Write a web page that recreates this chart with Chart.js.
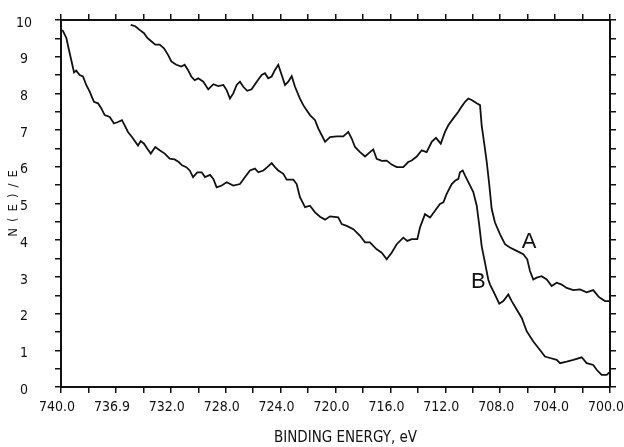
<!DOCTYPE html>
<html>
<head>
<meta charset="utf-8">
<script src="https://cdn.jsdelivr.net/npm/chart.js@4"></script>
<style>
  html, body { margin: 0; padding: 0; background: #fff; }
</style>
</head>
<body>
<canvas id="spectrum" width="624" height="447"></canvas>
<script>
// [binding energy (eV), N(E)/E]
const curveA = [
  [734.92, 9.87], [734.59, 9.83], [734.27, 9.73], [733.95, 9.64], [733.71, 9.51], [733.42, 9.42],
  [733.13, 9.33], [732.81, 9.33], [732.50, 9.23], [732.20, 9.05], [731.96, 8.87], [731.60, 8.78],
  [731.23, 8.73], [730.99, 8.78], [730.75, 8.64], [730.51, 8.46], [730.26, 8.36], [730.00, 8.41],
  [729.63, 8.32], [729.27, 8.11], [728.90, 8.25], [728.54, 8.20], [728.17, 8.23], [727.93, 8.09],
  [727.69, 7.86], [727.45, 8.00], [727.20, 8.23], [726.96, 8.32], [726.72, 8.18], [726.43, 8.07],
  [726.11, 8.11], [725.74, 8.32], [725.38, 8.50], [725.14, 8.55], [724.90, 8.41], [724.65, 8.46],
  [724.41, 8.64], [724.17, 8.78], [723.92, 8.50], [723.68, 8.23], [723.44, 8.32], [723.19, 8.47],
  [722.95, 8.18], [722.59, 7.86], [722.35, 7.68], [722.10, 7.54], [721.86, 7.41], [721.49, 7.27],
  [721.25, 7.04], [721.00, 6.86], [720.76, 6.68], [720.40, 6.81], [719.91, 6.83], [719.43, 6.83],
  [719.07, 6.95], [718.82, 6.77], [718.58, 6.54], [718.21, 6.40], [717.85, 6.28], [717.49, 6.40],
  [717.25, 6.47], [717.00, 6.22], [716.63, 6.16], [716.27, 6.17], [715.91, 6.06], [715.54, 5.99],
  [715.06, 5.99], [714.70, 6.13], [714.45, 6.17], [714.08, 6.28], [713.72, 6.45], [713.36, 6.40],
  [712.99, 6.68], [712.68, 6.79], [712.33, 6.63], [712.02, 6.95], [711.78, 7.13], [711.42, 7.32],
  [711.05, 7.50], [710.81, 7.64], [710.56, 7.77], [710.32, 7.86], [710.08, 7.82], [709.71, 7.73],
  [709.47, 7.68], [709.35, 7.13], [709.11, 6.49], [708.98, 6.13], [708.79, 5.49], [708.62, 4.85],
  [708.38, 4.48], [708.01, 4.16], [707.65, 3.89], [707.29, 3.80], [706.80, 3.71], [706.32, 3.62],
  [706.03, 3.48], [705.83, 3.16], [705.59, 2.93], [705.34, 2.98], [704.98, 3.02], [704.61, 2.93],
  [704.25, 2.75], [703.88, 2.84], [703.52, 2.79], [703.16, 2.70], [702.67, 2.64], [702.19, 2.66],
  [701.70, 2.58], [701.22, 2.64], [700.85, 2.47], [700.73, 2.43], [700.36, 2.34], [700.07, 2.34]
];

const curveB = [
  [739.98, 9.73], [739.85, 9.70], [739.61, 9.51], [739.37, 9.10], [739.20, 8.82], [739.05, 8.57],
  [738.89, 8.62], [738.64, 8.50], [738.40, 8.46], [738.16, 8.23], [737.91, 8.05], [737.60, 7.77],
  [737.30, 7.73], [737.06, 7.59], [736.82, 7.41], [736.45, 7.36], [736.14, 7.18], [735.85, 7.22],
  [735.56, 7.27], [735.36, 7.13], [735.12, 6.95], [734.83, 6.81], [734.39, 6.58], [734.19, 6.70],
  [733.95, 6.63], [733.71, 6.49], [733.46, 6.36], [733.13, 6.54], [732.81, 6.45], [732.44, 6.36],
  [732.08, 6.22], [731.72, 6.20], [731.42, 6.13], [731.18, 6.04], [730.87, 5.99], [730.62, 5.90],
  [730.38, 5.72], [730.07, 5.85], [729.75, 5.85], [729.51, 5.72], [729.14, 5.78], [728.90, 5.67],
  [728.66, 5.44], [728.29, 5.49], [727.93, 5.58], [727.45, 5.49], [726.96, 5.53], [726.59, 5.72],
  [726.23, 5.90], [725.87, 5.95], [725.62, 5.85], [725.26, 5.90], [724.97, 5.99], [724.65, 6.10],
  [724.41, 5.99], [724.17, 5.90], [723.80, 5.81], [723.56, 5.65], [723.07, 5.65], [722.83, 5.53],
  [722.59, 5.17], [722.22, 4.90], [721.86, 4.94], [721.49, 4.76], [721.13, 4.64], [720.76, 4.56],
  [720.40, 4.65], [719.80, 4.62], [719.55, 4.44], [719.18, 4.39], [718.70, 4.30], [718.21, 4.12],
  [717.85, 3.94], [717.49, 3.94], [717.00, 3.75], [716.63, 3.66], [716.27, 3.48], [715.91, 3.66],
  [715.54, 3.89], [715.06, 4.07], [714.77, 3.98], [714.45, 4.03], [714.04, 4.03], [713.84, 4.35],
  [713.48, 4.71], [713.11, 4.62], [712.75, 4.80], [712.39, 4.99], [712.14, 5.03], [711.90, 5.26],
  [711.53, 5.53], [711.29, 5.62], [711.05, 5.67], [710.93, 5.85], [710.73, 5.90], [710.56, 5.76],
  [710.32, 5.58], [709.96, 5.31], [709.71, 4.94], [709.52, 4.39], [709.35, 3.84], [709.11, 3.39],
  [708.87, 2.93], [708.74, 2.79], [708.38, 2.52], [708.07, 2.27], [707.77, 2.34], [707.41, 2.52],
  [707.16, 2.34], [706.80, 2.11], [706.43, 1.88], [706.07, 1.52], [705.59, 1.24], [705.10, 1.01],
  [704.74, 0.83], [704.37, 0.79], [703.88, 0.74], [703.64, 0.65], [703.15, 0.69], [702.67, 0.74],
  [702.06, 0.81], [701.70, 0.65], [701.22, 0.60], [700.97, 0.47], [700.61, 0.33], [700.24, 0.33],
  [700.05, 0.40]
];

// labelled x ticks (every 4 eV); unlabelled minor ticks fall in between
const xTickValues = [740, 736, 732, 728, 724, 720, 716, 712, 708, 704, 700];
const xTickLabels = ['740.0', '736.9', '732.0', '728.0', '724.0', '720.0', '716.0', '712.0', '708.0', '704.0', '700.0'];

const xTitle = 'BINDING ENERGY, eV';
const yTitle = 'N(E)/E';

// curve names and where they sit
const curveNames = ['A', 'B'];
const curveNameEnergy = [705.9, 709.6];
const curveNameValue = [3.95, 2.85];

const ink = '#111';
const plotterFont = "'Liberation Sans Narrow', 'DejaVu Sans Condensed', 'DejaVu Sans', sans-serif";

const toPoints = arr => arr.map(p => ({ x: p[0], y: p[1] }));

// axis titles (spaced out like the plotter lettering) and the A / B markers
const plotText = {
  id: 'plotText',
  afterDraw(chart) {
    const { ctx, chartArea, scales } = chart;
    ctx.save();
    ctx.fillStyle = ink;
    ctx.textAlign = 'center';
    ctx.textBaseline = 'middle';

    ctx.font = '15px ' + plotterFont;
    ctx.fillText(xTitle, (chartArea.left + chartArea.right) / 2 + 10, 438);

    ctx.save();
    ctx.translate(14, (chartArea.top + chartArea.bottom) / 2);
    ctx.rotate(-Math.PI / 2);
    ctx.font = '13px ' + plotterFont;
    ctx.letterSpacing = '6px';
    ctx.fillText(yTitle, 3, 0);
    ctx.restore();

    ctx.font = "22px 'Liberation Sans', Arial, sans-serif";
    curveNames.forEach((name, i) => {
      ctx.fillText(name, scales.x.getPixelForValue(curveNameEnergy[i]), scales.y.getPixelForValue(curveNameValue[i]));
    });
    ctx.restore();
  }
};

const axisBorder = { display: true, color: ink, width: 2 };
const outerTicks = { drawOnChartArea: false, drawTicks: true, tickLength: 6, color: ink, lineWidth: 1.5 };

new Chart(document.getElementById('spectrum'), {
  type: 'line',
  data: {
    datasets: [
      { label: 'A', data: toPoints(curveA), borderColor: ink, borderWidth: 1.8, pointRadius: 0, tension: 0, fill: false },
      { label: 'B', data: toPoints(curveB), borderColor: ink, borderWidth: 1.8, pointRadius: 0, tension: 0, fill: false }
    ]
  },
  options: {
    responsive: false,
    animation: false,
    events: [],
    layout: { padding: 0 },
    plugins: { legend: { display: false }, tooltip: { enabled: false } },
    scales: {
      x: {
        type: 'linear', position: 'bottom', min: 700, max: 740, reverse: true,
        border: axisBorder,
        grid: outerTicks,
        ticks: {
          stepSize: 2, autoSkip: false, maxRotation: 0, minRotation: 0, padding: 6, labelOffset: -4,
          color: ink, font: { family: plotterFont, size: 14 },
          callback: v => {
            const i = xTickValues.indexOf(v);
            return i >= 0 ? xTickLabels[i] : '';
          }
        },
        afterFit: s => { s.height = 60; s.paddingLeft = 0; s.paddingRight = 0; }
      },
      xTop: {
        type: 'linear', position: 'top', min: 700, max: 740, reverse: true,
        border: axisBorder,
        grid: outerTicks,
        ticks: { display: false, stepSize: 2 },
        afterFit: s => { s.height = 20; }
      },
      y: {
        type: 'linear', position: 'left', min: 0, max: 10,
        border: axisBorder,
        grid: outerTicks,
        ticks: {
          stepSize: 0.5, autoSkip: false, crossAlign: 'center', padding: 23, labelOffset: 3,
          color: ink, font: { family: plotterFont, size: 14 },
          callback: v => Number.isInteger(v) ? String(v) : ''
        },
        afterFit: s => { s.width = 61; s.paddingTop = 0; s.paddingBottom = 0; }
      },
      yRight: {
        type: 'linear', position: 'right', min: 0, max: 10,
        border: axisBorder,
        grid: outerTicks,
        ticks: { display: false, stepSize: 0.5 },
        afterFit: s => { s.width = 14; }
      }
    }
  },
  plugins: [plotText]
});
</script>
</body>
</html>
